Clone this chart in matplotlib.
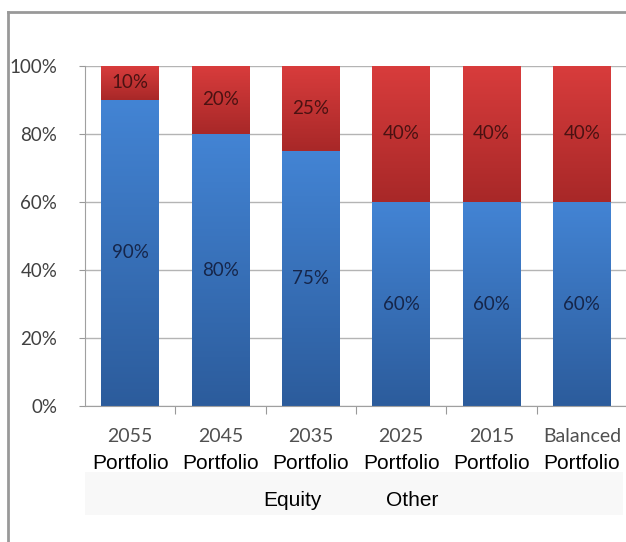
import numpy as np
import matplotlib
matplotlib.use("Agg")
import matplotlib.pyplot as plt
from matplotlib.colors import LinearSegmentedColormap
from matplotlib.lines import Line2D
from matplotlib.patches import Rectangle

# data
years = ["2055", "2045", "2035", "2025", "2015", "Balanced"]
equity = [90, 80, 75, 60, 60, 60]
other = [10, 20, 25, 40, 40, 40]
yticks = [0, 20, 40, 60, 80, 100]

W, H = 626, 542
fig = plt.figure(figsize=(W / 100, H / 100), dpi=100)
ax = fig.add_axes([85 / W, 136 / H, 542 / W, 340 / H])
ax.patch.set_alpha(0)

x = np.arange(len(years))
bw = 0.64
b1 = ax.bar(x, equity, bw, color="none", label="Equity", zorder=3)
b2 = ax.bar(x, other, bw, bottom=equity, color="none", label="Other", zorder=3)

blue_cm = LinearSegmentedColormap.from_list("b", ["#2c5c9c", "#4384d4"])
red_cm = LinearSegmentedColormap.from_list("r", ["#a82828", "#d83c3c"])
grad = np.linspace(0, 1, 128).reshape(-1, 1)
for bars, cm in ((b1, blue_cm), (b2, red_cm)):
    for r in bars:
        x0, y0 = r.get_x(), r.get_y()
        ax.imshow(grad, cmap=cm, origin="lower", aspect="auto", zorder=2,
                  extent=(x0, x0 + r.get_width(), y0, y0 + r.get_height()))

for r, v in zip(b1, equity):
    ax.text(r.get_x() + r.get_width() / 2, r.get_y() + r.get_height() / 2, f"{v}%",
            ha="center", va="center", fontsize=13.5, family="Lato", color="#16264a", zorder=4)
for r, v in zip(b2, other):
    ax.text(r.get_x() + r.get_width() / 2, r.get_y() + r.get_height() / 2, f"{v}%",
            ha="center", va="center", fontsize=13.5, family="Lato", color="#4a1212", zorder=4)

ax.set_xlim(-0.5, len(years) - 0.5)
ax.set_ylim(0, 100)
ax.set_yticks(yticks)
ax.set_yticklabels([f"{t}%" for t in yticks], family="Lato", fontsize=13.5, color="#404040")
ax.tick_params(axis="y", length=4, color="#999999", pad=16)
ax.grid(axis="y", color="#b4b4b4", linewidth=1, zorder=0)

ax.set_xticks(x + 0.5, minor=False)
ax.set_xticklabels([])
ax.tick_params(axis="x", length=6, color="#999999")
for xi, yr in zip(x, years):
    ax.text(xi, -6.5, yr, ha="center", va="top", fontsize=14, family="Lato", color="#505050",
            transform=ax.transData, clip_on=False)
    ax.text(xi, -14, "Portfolio", ha="center", va="top", fontsize=15, family="Liberation Sans",
            color="black", transform=ax.transData, clip_on=False)

for s in ["top", "right"]:
    ax.spines[s].set_visible(False)
ax.spines["left"].set_color("#a0a0a0")
ax.spines["bottom"].set_color("#a0a0a0")
ax.set_axisbelow(True)

# faint band behind the legend row
fig.patches.append(Rectangle((85 / W, 1 - 515 / H), 538 / W, 43 / H, transform=fig.transFigure,
                             facecolor="#f8f8f8", edgecolor="none", zorder=-1))

leg = ax.legend(loc="center", bbox_to_anchor=(351 / W, 1 - 500 / H), bbox_transform=fig.transFigure,
                ncol=2, frameon=False, handlelength=0, handletextpad=0, columnspacing=3.1,
                prop={"family": "Liberation Sans", "size": 15})
for h in leg.legend_handles:
    h.set_visible(False)

# outer chart frame
fig.add_artist(Line2D([8 / W, 8 / W], [0, 1 - 12 / H], color="#999999", linewidth=2, transform=fig.transFigure))
fig.add_artist(Line2D([8 / W, 1], [1 - 12 / H, 1 - 12 / H], color="#999999", linewidth=2, transform=fig.transFigure))

fig.savefig("out.png", dpi=100)
